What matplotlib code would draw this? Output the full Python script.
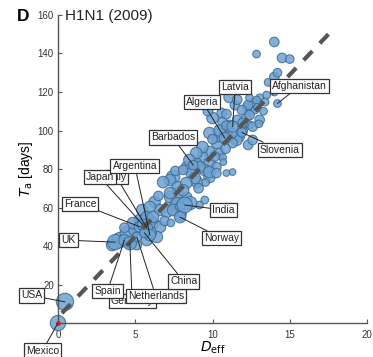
import numpy as np
import matplotlib
matplotlib.use('Agg')
import matplotlib.pyplot as plt

plt.rcParams['font.family'] = ['Liberation Sans', 'DejaVu Sans']

# unlabelled countries: effective distance, arrival time (days), relative population
d_eff = [14.0, 12.85, 14.5, 15.0, 14.0, 14.2, 13.6, 13.5, 13.05, 12.6, 13.4, 12.2, 12.3, 12.75,
         11.1, 11.45, 12.3, 12.4, 12.85, 14.0, 13.05, 12.2, 12.4, 11.9, 12.3, 11.75, 11.0, 10.6,
         11.6, 11.9, 12.4, 11.6, 11.1, 10.5, 11.95, 12.6, 11.55, 10.3, 9.8, 10.45, 9.35, 9.0,
         9.8, 10.65, 11.3, 10.35, 10.65, 10.9, 10.0, 9.7, 7.45, 7.25, 8.35, 8.65, 9.0, 9.5,
         9.8, 10.25, 7.75, 7.55, 7.9, 6.25, 6.6, 5.95, 5.3, 7.05, 9.15, 9.5, 10.7, 11.3, 10.9,
         4.0, 4.45, 4.95, 5.3, 4.85, 5.45, 5.75, 6.15, 6.6, 6.4, 5.75, 7.25, 7.7, 8.0, 7.45,
         8.35, 6.8, 7.6, 8.1, 7.75, 7.25, 6.5, 5.95, 6.15, 9.8, 10.45, 10.9, 11.3, 11.95, 12.6,
         13.0, 10.0, 9.35, 8.95, 8.5, 9.15, 9.8, 10.25, 8.85, 8.3, 8.1, 8.55, 7.9, 12.9, 13.3,
         3.5, 4.6, 5.1, 4.3, 6.9, 7.3, 6.0, 9.1, 9.55, 10.15, 10.85]
t_a = [146, 139.7, 137.7, 137.1, 127.8, 130, 125, 118.4, 117, 114.8, 114.8, 112.2, 109.6, 110.6,
       117.4, 113.2, 113.2, 117, 115.8, 120, 105.5, 107, 102.9, 101.8, 92.5, 96.6, 99.2, 109.1,
       116, 110.6, 108, 105.5, 102.9, 98.7, 99.7, 95.1, 95.1, 93.5, 88.8, 88.3, 86.2, 83.1,
       83.1, 86, 93.5, 96.6, 104.4, 108.5, 106.5, 110, 75.8, 74.3, 81, 77.9, 73.2, 79.5,
       75.8, 81, 67.5, 61.3, 56.1, 62.9, 58.7, 53.5, 48.3, 57.7, 61.3, 63.9, 83.6, 78.4, 77.9,
       43.1, 46.8, 48.3, 53.5, 51.9, 58.7, 55.1, 51.9, 49.9, 44.7, 43.1, 65.5, 62.3, 57.1, 58.7,
       65.5, 73.2, 79, 79.5, 70.6, 67.5, 66, 60.3, 55.1, 98.7, 100, 102.5, 98.7, 104, 102,
       103.5, 95.5, 91.4, 88.3, 84.7, 81, 78.4, 77.9, 75.3, 72.7, 69, 62.3, 60.5, 112, 110,
       40.5, 42, 40.5, 49.5, 53, 52, 47, 70, 73, 86.5, 90.5]
pop = [25, 16, 25, 20, 25, 20, 16, 16, 16, 16, 16, 16, 16, 16,
       36, 25, 25, 16, 16, 16, 25, 25, 16, 25, 25, 25, 25, 25,
       25, 25, 25, 25, 25, 36, 25, 25, 36, 36, 36, 25, 36, 25,
       36, 16, 25, 25, 25, 25, 36, 25, 49, 36, 36, 36, 36, 36,
       36, 25, 36, 36, 36, 36, 36, 36, 36, 36, 16, 16, 12, 12, 12,
       64, 49, 36, 36, 36, 36, 36, 36, 36, 36, 36, 36, 36, 25, 36,
       25, 36, 25, 25, 36, 36, 25, 36, 36, 36, 36, 25, 25, 25, 25,
       16, 25, 36, 36, 36, 36, 36, 25, 36, 36, 36, 49, 25, 16, 16,
       36, 36, 25, 25, 25, 16, 36, 25, 16, 25, 25]

# labelled countries
names = ['Mexico', 'USA', 'UK', 'France', 'Japan', 'Italy', 'Argentina', 'Spain', 'Germany',
         'Netherlands', 'China', 'Norway', 'India', 'Barbados', 'Algeria', 'Latvia',
         'Slovenia', 'Afghanistan']
lab_deff = [0.0, 0.45, 3.7, 5.3, 5.5, 5.75, 5.95, 4.3, 4.65, 5.1, 5.6, 7.9, 8.2, 8.75, 10.8,
            11.3, 11.9, 14.2]
lab_ta = [0, 11, 42, 50, 51, 49.4, 45.7, 43, 41.5, 44.7, 46.8, 55, 61.3, 82, 96, 102, 99, 114]
lab_pop = [64, 81, 64, 36, 36, 36, 36, 36, 49, 25, 25, 36, 64, 25, 36, 36, 25, 16]

# fitted line T_a = slope * D_eff + offset
fit_slope = 8.4
fit_offset = 3.0
fit_range = [0.25, 17.8]

# label text positions (layout)
label_pos = {'Mexico': (-1.0, -14.3), 'USA': (-1.71, 14.3), 'UK': (0.68, 43),
             'France': (1.42, 62), 'Japan': (2.71, 75.8), 'Italy': (3.78, 75.8),
             'Argentina': (4.97, 81.6), 'Spain': (3.2, 16.6), 'Germany': (4.8, 11.4),
             'Netherlands': (6.33, 14), 'China': (8.14, 21.6), 'Norway': (10.6, 44),
             'India': (10.7, 58.7), 'Barbados': (7.43, 96.4), 'Algeria': (9.33, 115),
             'Latvia': (11.47, 122.6), 'Slovenia': (14.34, 90), 'Afghanistan': (15.6, 122.9)}
draw_order = ['Mexico', 'USA', 'UK', 'France', 'Italy', 'Japan', 'Argentina', 'Germany',
              'Spain', 'Netherlands', 'China', 'Norway', 'India', 'Barbados', 'Algeria',
              'Latvia', 'Slovenia', 'Afghanistan']

fig = plt.figure(figsize=(3.73, 3.57), dpi=100)
ax = fig.add_axes([0.1555, 0.0952, 0.8285, 0.8628])

face = '#6fa3d2'
edge = '#3d6b94'
ax.scatter(d_eff, t_a, s=np.array(pop) * 1.9, facecolor=face, edgecolor=edge,
           linewidth=0.8, alpha=0.85, zorder=2)
ax.scatter(lab_deff, lab_ta, s=np.array(lab_pop) * 1.9, facecolor=face, edgecolor=edge,
           linewidth=0.8, alpha=0.85, zorder=2, clip_on=False)
ax.plot([lab_deff[0]], [lab_ta[0]], 'o', color='#d62728', ms=2.5, zorder=4, clip_on=False)

xf = np.array(fit_range)
ax.plot(xf, fit_slope * xf + fit_offset, color='#555555', lw=3, linestyle=(0, (3, 2.6)),
        zorder=3)

for name in draw_order:
    i = names.index(name)
    ax.annotate(name, xy=(lab_deff[i], lab_ta[i]), xytext=label_pos[name],
                textcoords='data', ha='center', va='center', fontsize=7.5,
                color='#222222', annotation_clip=False, zorder=6,
                bbox=dict(boxstyle='square,pad=0.2', fc='white', ec='#333333', lw=0.9),
                arrowprops=dict(arrowstyle='-', color='#222222', lw=0.7,
                                shrinkA=0, shrinkB=0))

ax.set_xlim(0, 20)
ax.set_ylim(0, 160)
ax.set_xticks([0, 5, 10, 15, 20])
ax.set_yticks([20, 40, 60, 80, 100, 120, 140, 160])
for s in ['top', 'right']:
    ax.spines[s].set_visible(False)
for s in ['left', 'bottom']:
    ax.spines[s].set_color('#555555')
    ax.spines[s].set_linewidth(1.0)
ax.tick_params(direction='in', length=3, width=0.8, color='#555555', labelsize=7,
               labelcolor='#333333')
ax.tick_params(axis='x', pad=5)
ax.tick_params(axis='y', pad=3)

ax.set_xlabel(r'$D_{\rm eff}$', fontsize=10, labelpad=0)
ax.set_ylabel(r'$T_{\rm a}$ [days]', fontsize=10, labelpad=2)
fig.text(0.175, 0.955, 'H1N1 (2009)', fontsize=11, ha='left', va='center', color='#222222')
fig.text(0.045, 0.955, 'D', fontsize=12.5, fontweight='bold', ha='left', va='center')

fig.savefig('out.png', dpi=100)
